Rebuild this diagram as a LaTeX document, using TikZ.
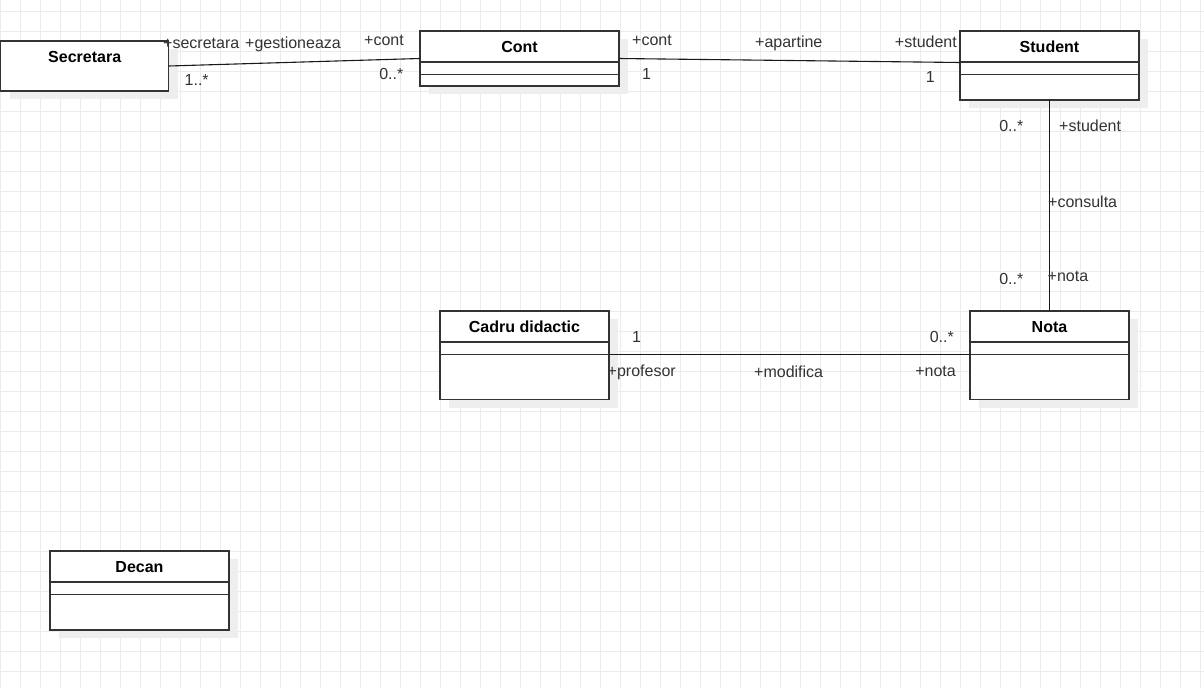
\documentclass[tikz,border=0pt]{standalone}
\usepackage{fontspec}
\setmainfont{Liberation Sans}
\usetikzlibrary{shadows}
\definecolor{gridc}{HTML}{EBEBEB}
\definecolor{shadc}{HTML}{EEEEEE}
\definecolor{bordc}{HTML}{333333}
\definecolor{lblc}{HTML}{333333}
\begin{document}
\begin{tikzpicture}[x=1pt,y=-1pt,
 umlbox/.style={draw=bordc, line width=1.4pt, fill=white, rectangle, inner sep=0pt, outer sep=0pt, anchor=north west,
   general shadow={fill=shadc, shadow xshift=9pt, shadow yshift=-8pt}},
 ttl/.style={font=\fontsize{16}{19}\selectfont\bfseries, text=black, inner sep=0pt, anchor=base},
 lbl/.style={font=\fontsize{16}{19}\selectfont, text=lblc, inner sep=0pt},
 assoc/.style={draw=black!90, line width=1.1pt},
 divl/.style={draw=bordc, line width=1.4pt}]
\useasboundingbox (0,0) rectangle (1204,688);
\fill[white] (0,0) rectangle (1204,688);
% grid
\foreach \gx in {0,20,...,1200} \draw[gridc, line width=1pt] (\gx,0) -- (\gx,688);
\foreach \gy in {11,31,...,671} \draw[gridc, line width=1pt] (0,\gy) -- (1204,\gy);

% boxes
\node[umlbox, minimum width=168pt, minimum height=50pt] (sec) at (0.7,41) {};
\node[umlbox, minimum width=199pt, minimum height=55pt] (cont) at (420,31) {};
\node[umlbox, minimum width=179pt, minimum height=69pt] (student) at (960,31) {};
\node[umlbox, minimum width=169pt, minimum height=88.5pt] (cadru) at (440,311) {};
\node[umlbox, minimum width=159pt, minimum height=88.5pt] (nota) at (970,311) {};
\node[umlbox, minimum width=179pt, minimum height=79pt] (decan) at (50,551) {};

% dividers
\foreach \b in {cont,student,cadru,nota,decan}{
  \draw[divl] ([yshift=-31pt]\b.north west) -- ([yshift=-31pt]\b.north east);
  \draw[divl] ([yshift=-43.3pt]\b.north west) -- ([yshift=-43.3pt]\b.north east);
}

% titles
\node[ttl] (secT) at ([yshift=-21pt]sec.north) {Secretara};
\node[ttl] (contT) at ([yshift=-21pt]cont.north) {Cont};
\node[ttl] (studentT) at ([yshift=-21pt]student.north) {Student};
\node[ttl] (cadruT) at ([yshift=-21pt]cadru.north) {Cadru didactic};
\node[ttl] (notaT) at ([yshift=-21pt]nota.north) {Nota};
\node[ttl] (decanT) at ([yshift=-21pt]decan.north) {Decan};

% connectors
\draw[assoc] (sec.east) -- (cont.west);
\draw[assoc] (cont.east) -- ([yshift=3pt]student.west);
\draw[assoc] (student.south) -- (nota.north);
\draw[assoc] ([yshift=1pt]cadru.east) -- ([yshift=1pt]nota.west);

% Secretara - Cont labels
\node[lbl, anchor=base west] (l1) at (163,48) {+secretara};
\node[lbl, anchor=base west] (l2) at (245,48) {+gestioneaza};
\node[lbl, anchor=base east] (l3) at (404,45) {+cont};
\node[lbl, anchor=base west] (l4) at (184.5,85) {1..*};
\node[lbl, anchor=base east] (l5) at (403.5,79) {0..*};

% Cont - Student labels
\node[lbl, anchor=base west] (l6) at (632,45) {+cont};
\node[lbl, anchor=base west] (l7) at (642,79) {1};
\node[lbl, anchor=base west] (l8) at (755,47) {+apartine};
\node[lbl, anchor=base east] (l9) at (957,47.5) {+student};
\node[lbl, anchor=base east] (l10) at (935,82.5) {1};

% Student - Nota labels
\node[lbl, anchor=base east] (l11) at (1023.5,131.5) {0..*};
\node[lbl, anchor=base west] (l12) at (1059,131.5) {+student};
\node[lbl, anchor=base west] (l13) at (1048,207.5) {+consulta};
\node[lbl, anchor=base east] (l14) at (1023.5,284.5) {0..*};
\node[lbl, anchor=base west] (l15) at (1047.5,281.5) {+nota};

% Cadru - Nota labels
\node[lbl, anchor=base west] (l16) at (632,342.5) {1};
\node[lbl, anchor=base west] (l17) at (607.5,376.5) {+profesor};
\node[lbl, anchor=base west] (l18) at (754,377.5) {+modifica};
\node[lbl, anchor=base east] (l19) at (954,342.5) {0..*};
\node[lbl, anchor=base east] (l20) at (956,376.5) {+nota};
\end{tikzpicture}
\end{document}
